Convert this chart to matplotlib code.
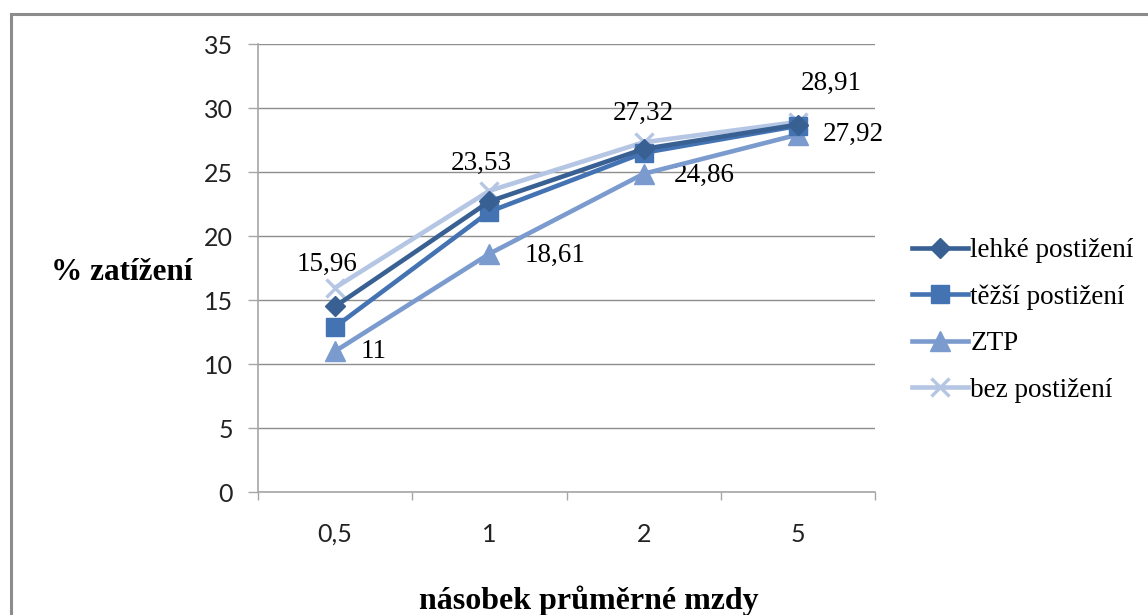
import matplotlib
matplotlib.use("Agg")
import matplotlib.pyplot as plt
from matplotlib.patches import Rectangle
from matplotlib.ticker import FixedLocator

categories = ["0,5", "1", "2", "5"]
lehke = [14.5, 22.7, 26.8, 28.7]
tezsi = [12.9, 21.9, 26.5, 28.6]
ztp = [11.0, 18.61, 24.86, 27.92]
bez = [15.96, 23.53, 27.32, 28.91]
series_names = ["lehké postižení", "těžší postižení", "ZTP", "bez postižení"]
y_ticks = [0, 5, 10, 15, 20, 25, 30, 35]

W, H = 1148, 615
fig = plt.figure(figsize=(W / 100, H / 100), dpi=100)
fig.patch.set_facecolor("white")

# outer chart border
fig.patches.append(Rectangle((11 / W, -0.1), 1.2, (615 - 14) / H + 0.1,
                             transform=fig.transFigure, fill=False,
                             edgecolor="#8c8c8c", linewidth=2.2, zorder=0))

ax = fig.add_axes([258 / W, (H - 492) / H, (875 - 258) / W, (492 - 44) / H])
x = list(range(len(categories)))

c1, c2, c3, c4 = "#386093", "#4473b4", "#7b9bcf", "#b4c6e4"
lw = 3.3
ax.plot(x, bez, color=c4, lw=lw, marker="x", ms=13, mew=2.4, label=series_names[3], zorder=3)
ax.plot(x, ztp, color=c3, lw=lw, marker="^", ms=14, label=series_names[2], zorder=4)
ax.plot(x, tezsi, color=c2, lw=lw, marker="s", ms=13, label=series_names[1], zorder=5)
ax.plot(x, lehke, color=c1, lw=lw, marker="D", ms=10, label=series_names[0], zorder=6)

ax.set_xlim(-0.5, len(categories) - 0.5)
ax.set_ylim(0, 35)
ax.set_yticks(y_ticks)
ax.set_yticklabels([str(v) for v in y_ticks])
ax.set_xticks(x)
ax.set_xticklabels(categories)
ax.xaxis.set_minor_locator(FixedLocator([i - 0.5 for i in range(len(categories) + 1)]))

ax.grid(axis="y", color="#8e8e8e", linewidth=1.0, zorder=0)
ax.set_axisbelow(True)
for s in ["top", "right"]:
    ax.spines[s].set_visible(False)
for s in ["left", "bottom"]:
    ax.spines[s].set_color("#a6a6a6")
    ax.spines[s].set_linewidth(1.2)

ax.tick_params(axis="y", length=7, width=1.0, color="#a6a6a6", pad=11, labelsize=18, labelcolor="#222222")
ax.tick_params(axis="x", which="major", length=0, pad=22, labelsize=18, labelcolor="#222222")
ax.tick_params(axis="x", which="minor", length=6, width=1.0, color="#a6a6a6")
for lab in ax.get_xticklabels() + ax.get_yticklabels():
    lab.set_family("Lato")

serif = "Liberation Serif"
# data labels
lab_kw = dict(fontsize=19.5, family=serif, color="black", ha="center", va="center",
              textcoords="offset points", annotation_clip=False)
bez_offsets = [(-6, 17), (-6, 20), (0, 21), (24, 28)]
for i, v in enumerate(bez):
    ax.annotate(f"{v:.2f}".replace(".", ","), (x[i], v), xytext=bez_offsets[i], **lab_kw)
ztp_offsets = [(28, 0), (47, -1), (44, -1), (40, 0)]
for i, v in enumerate(ztp):
    s = f"{v:.2f}".replace(".", ",") if v != int(v) else str(int(v))
    ax.annotate(s, (x[i], v), xytext=ztp_offsets[i], **lab_kw)

# axis titles
fig.text(122 / W, 1 - 272 / H, "% zatížení", family=serif, fontweight="bold",
         fontsize=22.5, ha="center", va="center")
fig.text(589 / W, 1 - 601 / H, "násobek průměrné mzdy", family=serif, fontweight="bold",
         fontsize=23, ha="center", va="center")

handles, labels = ax.get_legend_handles_labels()
order = [3, 2, 1, 0]
leg = fig.legend([handles[i] for i in order], [labels[i] for i in order],
                 loc="upper left", bbox_to_anchor=(912 / W, 1 - 238 / H),
                 frameon=False, prop={"family": serif, "size": 19.5},
                 handlelength=2.05, handletextpad=0.1, labelspacing=0.79,
                 borderaxespad=0, borderpad=0)

fig.savefig("out.png", dpi=100)
